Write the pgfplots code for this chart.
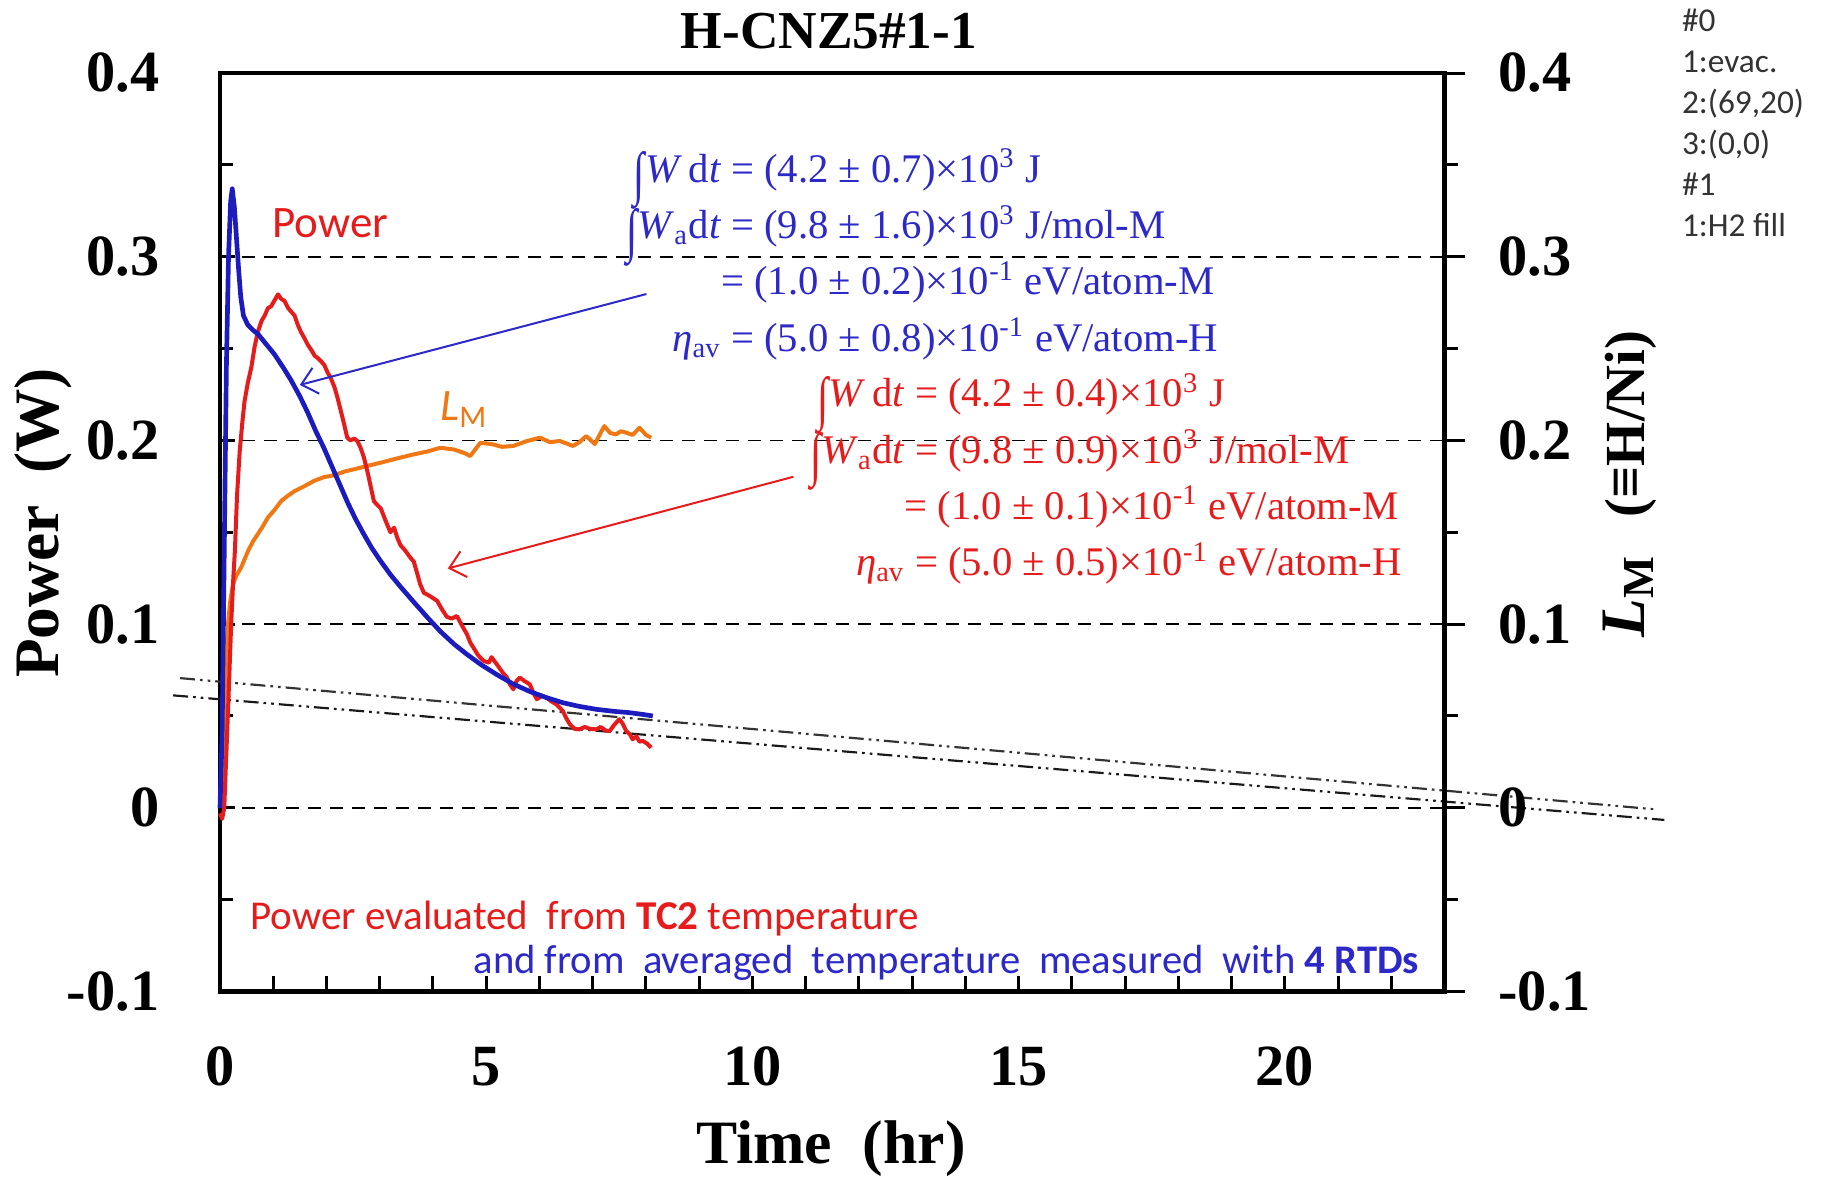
\documentclass[border=0pt]{standalone}
\usepackage{fontspec}
\setmainfont{Liberation Serif}
\newfontfamily\calibri{Carlito}
\usepackage{pgfplots}
\pgfplotsset{compat=1.18}
\usetikzlibrary{arrows.meta}
\definecolor{cred}{RGB}{230,28,28}
\definecolor{cblue}{RGB}{28,28,190}
\definecolor{tblue}{RGB}{45,40,200}
\definecolor{corange}{RGB}{240,120,20}
\newcommand\bigint{\smash{\raisebox{-0.28em}{\scalebox{1}[1.45]{∫}}}}
\begin{document}
\begin{tikzpicture}
\begin{axis}[
  at={(0,0)}, anchor=south west,
  scale only axis, width=367.35pt, height=275.55pt,
  xmin=0, xmax=23, ymin=-0.1, ymax=0.4,
  clip=false,
  axis line style={line width=1.4pt},
  xtick={0,1,...,22},
  xticklabels={0,{},{},{},{},5,{},{},{},{},10,{},{},{},{},15,{},{},{},{},20,{},{}},
  xtick pos=left, ytick pos=left,
  tick align=inside,
  ytick={-0.1,0,0.1,0.2,0.3,0.4},
  yticklabels={-0.1,0,0.1,0.2,0.3,0.4},
  minor ytick={-0.05,0.05,0.15,0.25,0.35},
  major tick length=4.5pt, minor tick length=3.8pt,
  tick style={line width=0.9pt, black},
  ymajorgrids,
  major grid style={black, line width=0.5pt, dash pattern=on 4pt off 2.6pt},
  ticklabel style={font=\fontsize{17.5}{17.5}\selectfont\bfseries},
  xticklabel style={anchor=center, yshift=-22.6pt},
  yticklabel style={anchor=east, inner sep=0pt, xshift=-18pt},
]
% dash-dot-dot reference lines
\addplot[black!80, line width=0.65pt, dash pattern=on 4.5pt off 1.5pt on 0.8pt off 1.5pt on 0.8pt off 1.5pt] coordinates {(-0.75,0.0706) (26.94,-0.0008)};
\addplot[black!90, line width=0.65pt, dash pattern=on 4.5pt off 1.5pt on 0.8pt off 1.5pt on 0.8pt off 1.5pt] coordinates {(-0.88,0.0612) (27.13,-0.0066)};
% L_M (orange)
\addplot[corange, line width=1.2pt, line join=round] coordinates {
(0.03,0.0) (0.06,0.03) (0.09,0.06) (0.12,0.085) (0.15,0.100) (0.19,0.112) (0.24,0.121) (0.30,0.126)
(0.40,0.131) (0.53,0.140) (0.62,0.145) (0.71,0.149) (0.80,0.153) (0.90,0.158) (1.02,0.162) (1.15,0.167)
(1.28,0.170) (1.40,0.1724) (1.58,0.175) (1.77,0.178) (1.95,0.180) (2.14,0.181) (2.33,0.183) (2.52,0.1843)
(2.75,0.186) (3.02,0.1879) (3.3,0.190) (3.64,0.1924) (3.9,0.194) (4.14,0.196) (4.4,0.195) (4.6,0.193)
(4.70,0.1915) (4.89,0.1987) (5.1,0.198) (5.3,0.1965) (5.51,0.197) (5.75,0.1995) (6.01,0.2015) (6.2,0.199)
(6.38,0.1997) (6.63,0.197) (6.75,0.199) (6.88,0.2024) (7.04,0.198) (7.13,0.203) (7.22,0.2078) (7.33,0.204)
(7.44,0.2033) (7.53,0.205) (7.63,0.2042) (7.75,0.203) (7.88,0.2069) (8.0,0.203) (8.10,0.2015)};
% Power from TC2 (red)
\addplot[cred, line width=1.2pt, line join=round] coordinates {
(0.0,-0.003) (0.04,-0.006) (0.08,0.0) (0.12,0.03) (0.16,0.06) (0.21,0.10) (0.25,0.125) (0.28,0.140)
(0.32,0.170) (0.37,0.194) (0.42,0.210) (0.46,0.221) (0.52,0.231) (0.59,0.240) (0.65,0.251) (0.71,0.259)
(0.78,0.265) (0.84,0.268) (0.90,0.272) (0.96,0.273) (1.02,0.276) (1.09,0.2795) (1.15,0.277) (1.21,0.276)
(1.28,0.272) (1.34,0.270) (1.40,0.268) (1.46,0.263) (1.52,0.259) (1.58,0.256) (1.65,0.252) (1.72,0.249)
(1.78,0.246) (1.83,0.245) (1.90,0.243) (1.96,0.241) (2.02,0.237) (2.08,0.234) (2.15,0.229) (2.21,0.223)
(2.27,0.216) (2.33,0.209) (2.39,0.2015) (2.45,0.200) (2.52,0.201) (2.58,0.1997) (2.64,0.196) (2.70,0.191)
(2.77,0.183) (2.83,0.175) (2.89,0.167) (2.95,0.165) (3.02,0.163) (3.10,0.157) (3.20,0.150) (3.27,0.1525)
(3.33,0.147) (3.39,0.143) (3.48,0.140) (3.58,0.136) (3.64,0.134) (3.70,0.128) (3.76,0.1217) (3.83,0.117)
(3.90,0.116) (4.01,0.114) (4.08,0.1126) (4.17,0.108) (4.26,0.104) (4.35,0.103) (4.45,0.1044) (4.55,0.099)
(4.64,0.0944) (4.70,0.090) (4.76,0.0872) (4.85,0.083) (4.95,0.080) (5.05,0.079) (5.10,0.082) (5.20,0.0781)
(5.30,0.074) (5.39,0.0709) (5.45,0.067) (5.51,0.0645) (5.57,0.069) (5.63,0.0709) (5.72,0.069) (5.82,0.0672)
(5.88,0.063) (5.95,0.0591) (6.05,0.061) (6.13,0.060) (6.22,0.058) (6.32,0.0563) (6.44,0.0527) (6.50,0.049)
(6.57,0.0455) (6.66,0.043) (6.75,0.0427) (6.85,0.044) (6.95,0.043) (7.07,0.0427) (7.15,0.044) (7.25,0.042)
(7.32,0.0418) (7.40,0.045) (7.50,0.0482) (7.56,0.046) (7.63,0.0418) (7.70,0.040) (7.75,0.0373) (7.82,0.039)
(7.88,0.036) (7.94,0.0364) (8.02,0.035) (8.10,0.0327)};
% Power from 4 RTDs (blue)
\addplot[cblue, line width=1.4pt, line join=round] coordinates {
(0.0,0.0) (0.04,0.04) (0.08,0.14) (0.12,0.24) (0.16,0.30) (0.20,0.330) (0.23,0.337) (0.27,0.327)
(0.31,0.310) (0.35,0.293) (0.39,0.278) (0.44,0.268) (0.52,0.263) (0.62,0.260) (0.71,0.258) (0.85,0.253)
(1.02,0.247) (1.18,0.240) (1.33,0.233) (1.50,0.224) (1.65,0.215) (1.80,0.205) (1.95,0.196) (2.10,0.186)
(2.25,0.176) (2.40,0.166) (2.55,0.157) (2.70,0.149) (2.85,0.1415) (3.0,0.135) (3.2,0.127) (3.4,0.120)
(3.64,0.112) (3.9,0.1035) (4.14,0.096) (4.4,0.089) (4.64,0.0835) (4.9,0.078) (5.2,0.0725) (5.5,0.0675)
(5.82,0.0633) (6.13,0.060) (6.44,0.0572) (6.75,0.0552) (7.07,0.0536) (7.4,0.0525) (7.69,0.0518) (7.95,0.0508)
(8.13,0.050)};
% arrows
\draw[tblue, line width=0.6pt, -{Straight Barb[length=4.5pt,width=8pt]}] (axis cs:8.01,0.2797) -- (axis cs:1.50,0.2302);
\draw[cred, line width=0.6pt, -{Straight Barb[length=4.5pt,width=8pt]}] (axis cs:10.77,0.1802) -- (axis cs:4.28,0.1303);
% annotation blocks
\node[anchor=base west, inner sep=0pt, text=tblue, font=\fontsize{12.2}{16.9}\selectfont] at (axis cs:7.62,0.3405) {%
\begin{tabular}[t]{@{}r@{}l@{}}
\bigint\textit{W}\,d\textit{t} & \ = (4.2 ± 0.7)×10\textsuperscript{3} J\\
\bigint\textit{W}\textsubscript{a}d\textit{t} & \ = (9.8 ± 1.6)×10\textsuperscript{3} J/mol-M\\
 & = (1.0 ± 0.2)×10\textsuperscript{-1} eV/atom-M\\
\textit{η}\textsubscript{av} & \ = (5.0 ± 0.8)×10\textsuperscript{-1} eV/atom-H
\end{tabular}};
\node[anchor=base west, inner sep=0pt, text=cred, font=\fontsize{12.2}{16.9}\selectfont] at (axis cs:11.07,0.2183) {%
\begin{tabular}[t]{@{}r@{}l@{}}
\bigint\textit{W}\,d\textit{t} & \ = (4.2 ± 0.4)×10\textsuperscript{3} J\\
\bigint\textit{W}\textsubscript{a}d\textit{t} & \ = (9.8 ± 0.9)×10\textsuperscript{3} J/mol-M\\
 & = (1.0 ± 0.1)×10\textsuperscript{-1} eV/atom-M\\
\textit{η}\textsubscript{av} & \ = (5.0 ± 0.5)×10\textsuperscript{-1} eV/atom-H
\end{tabular}};
% curve labels
\node[anchor=base west, inner sep=0pt, text=cred, font=\calibri\fontsize{13.5}{13.5}\selectfont] at (axis cs:0.97,0.3102) {Power};
\node[anchor=base west, inner sep=0pt, text=corange, font=\calibri\itshape\fontsize{13.5}{13.5}\selectfont] at (axis cs:4.13,0.211) {L\textsubscript{\upshape M}};
% bottom notes
\node[anchor=base west, inner sep=0pt, text=cred, font=\calibri\fontsize{12.3}{12.3}\selectfont] at (axis cs:0.56,-0.0665) {Power evaluated\ \ from \textbf{TC2} temperature};
\node[anchor=base west, inner sep=0pt, text=tblue, font=\calibri\fontsize{12.2}{12.2}\selectfont] at (axis cs:4.75,-0.090) {and from\ \ averaged\ \ temperature\ \ measured\ \ with \textbf{4 RTDs}};
% side notes
\node[anchor=base west, inner sep=0pt, text=black!80, font=\calibri\fontsize{10}{12.3}\selectfont] at (axis cs:27.45,0.4226) {%
\begin{tabular}[t]{@{}l@{}}\#0\\1:evac.\\2:(69,20)\\3:(0,0)\\\#1\\1:H2 fill\end{tabular}};
% labels
\node[anchor=center, font=\fontsize{16}{16}\selectfont\bfseries] at (axis description cs:0.4973,1.0453) {H-CNZ5\#1-1};
\node[anchor=center, font=\fontsize{18.5}{18.5}\selectfont\bfseries] at (axis description cs:0.499,-0.1715) {Time\ \ (hr)};
\node[anchor=center, rotate=90, font=\fontsize{19}{19}\selectfont\bfseries] at (axis description cs:-0.1445,0.510) {Power\ \ (W)};
\node[anchor=center, rotate=90, font=\fontsize{19}{19}\selectfont\bfseries] at (axis description cs:1.1515,0.5525) {\textit{L}\textsubscript{M}\hspace{0.6em}{\fontsize{17}{17}\selectfont(≡H/Ni)}};
\end{axis}
\begin{axis}[
  at={(0,0)}, anchor=south west,
  scale only axis, width=367.35pt, height=275.55pt,
  xmin=0, xmax=23, ymin=-0.1, ymax=0.4,
  axis x line=none, axis y line*=right,
  axis line style={line width=1.4pt},
  ytick={-0.1,0,0.1,0.2,0.3,0.4},
  yticklabels={-0.1,0,0.1,0.2,0.3,0.4},
  minor ytick={-0.05,0.05,0.15,0.25,0.35},
  tick align=outside,
  major tick length=6pt, minor tick length=4pt,
  tick style={line width=0.9pt, black},
  ticklabel style={font=\fontsize{17.5}{17.5}\selectfont\bfseries},
  yticklabel style={anchor=west, inner sep=0pt, xshift=10pt},
]
\end{axis}
\pgfresetboundingbox
\path (-66pt,-55.95pt) rectangle (480.9pt,297.45pt);
\end{tikzpicture}
\end{document}
